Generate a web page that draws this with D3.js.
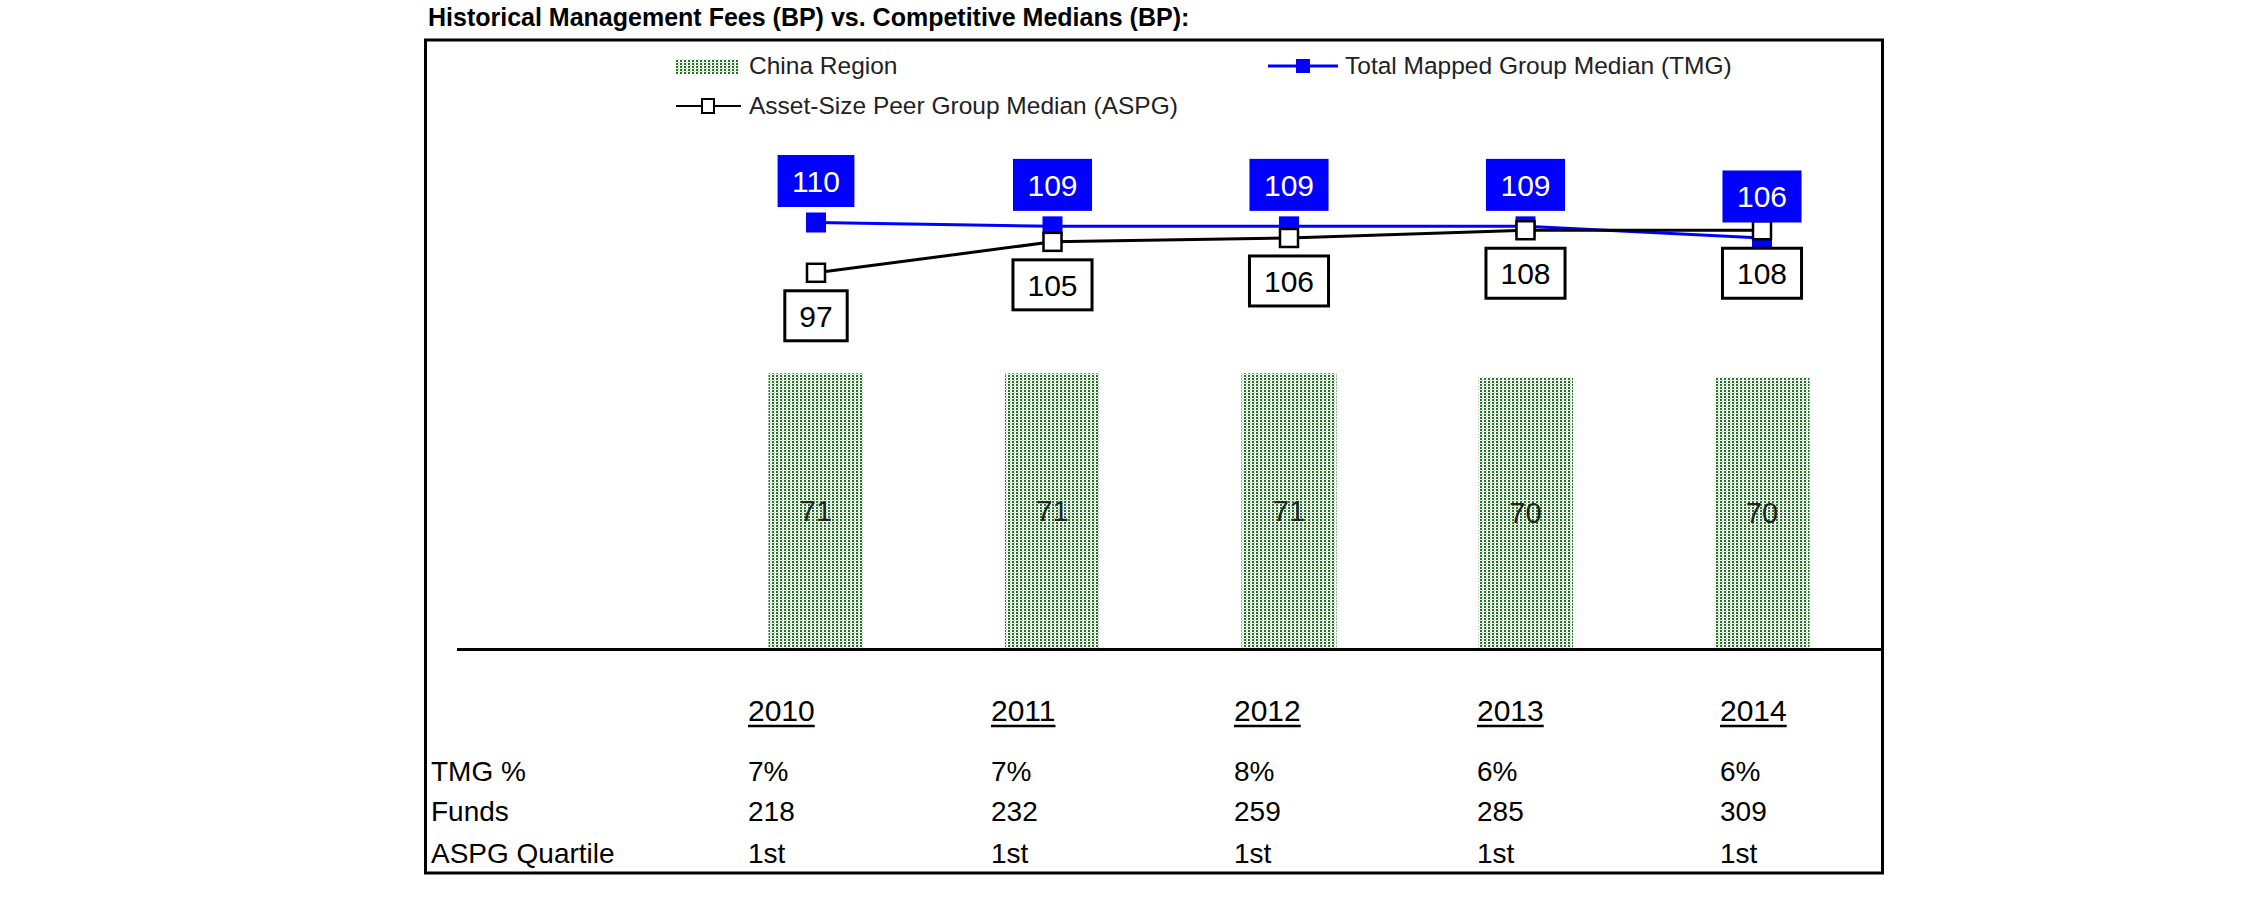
<!DOCTYPE html>
<html><head><meta charset="utf-8">
<script src="https://cdn.jsdelivr.net/npm/d3@7"></script>
<style>body{margin:0;background:#fff} svg{display:block} text{font-family:"Liberation Sans",Arial,sans-serif}</style>
</head><body><svg id="c" width="2251" height="898"></svg>
<script>
// ---- data ----
const years = ["2010","2011","2012","2013","2014"];
const chinaRegion = [71,71,71,70,70];
const tmgMedian = [110,109,109,109,106];
const aspgMedian = [97,105,106,108,108];
const tmgPct = ["7%","7%","8%","6%","6%"];
const funds = ["218","232","259","285","309"];
const aspgQuartile = ["1st","1st","1st","1st","1st"];
const rowLabels = ["TMG %","Funds","ASPG Quartile"];
const seriesNames = ["China Region","Total Mapped Group Median (TMG)","Asset-Size Peer Group Median (ASPG)"];
const titleText = "Historical Management Fees (BP) vs. Competitive Medians (BP):";

// ---- drawing ----
const W = 2251, H = 898;
const svg = d3.select("#c");
svg.append("rect").attr("width", W).attr("height", H).attr("fill", "#fff");

const defs = svg.append("defs");
const pat = defs.append("pattern").attr("id", "dots").attr("patternUnits", "userSpaceOnUse")
  .attr("width", 4).attr("height", 3);
pat.append("rect").attr("width", 4).attr("height", 3).attr("fill", "#fff");
pat.append("rect").attr("x", 0).attr("y", 0).attr("width", 2).attr("height", 2).attr("fill", "#1a781a");
pat.append("rect").attr("x", 2).attr("y", 2).attr("width", 1).attr("height", 1).attr("fill", "#a6d2a6");

// title
svg.append("text").attr("x", 428).attr("y", 26).attr("font-size", 25).attr("font-weight", "bold")
  .attr("fill", "#000").text(titleText);

// frame
svg.append("rect").attr("x", 425.5).attr("y", 40).attr("width", 1457).attr("height", 833)
  .attr("fill", "none").attr("stroke", "#000").attr("stroke-width", 3);

const x = d3.scalePoint().domain(years).range([816, 1762]);
const y = d3.scaleLinear().domain([0, 110]).range([648, 222.5]);
const barW = 95;

// bars
svg.append("g").selectAll("rect").data(years).join("rect")
  .attr("x", d => x(d) - barW / 2)
  .attr("y", (d, i) => y(chinaRegion[i]))
  .attr("width", barW)
  .attr("height", (d, i) => y(0) - y(chinaRegion[i]))
  .attr("fill", "url(#dots)");
svg.append("g").selectAll("text").data(years).join("text")
  .attr("x", d => x(d))
  .attr("y", (d, i) => (y(chinaRegion[i]) + y(0)) / 2 + 10)
  .attr("text-anchor", "middle").attr("font-size", 29).attr("fill", "#222")
  .text((d, i) => chinaRegion[i]);

// baseline
svg.append("line").attr("x1", 457).attr("x2", 1883).attr("y1", 649.5).attr("y2", 649.5)
  .attr("stroke", "#000").attr("stroke-width", 3);

// TMG line
const line = arr => d3.line().x((d, i) => x(years[i])).y(d => y(d))(arr);
svg.append("path").attr("d", line(tmgMedian)).attr("fill", "none")
  .attr("stroke", "#0000ff").attr("stroke-width", 3);
svg.append("g").selectAll("rect").data(tmgMedian).join("rect")
  .attr("x", (d, i) => x(years[i]) - 10).attr("y", d => y(d) - 10)
  .attr("width", 20).attr("height", 20).attr("fill", "#0000ff");

// ASPG line
svg.append("path").attr("d", line(aspgMedian)).attr("fill", "none")
  .attr("stroke", "#000").attr("stroke-width", 3);
svg.append("g").selectAll("rect").data(aspgMedian).join("rect")
  .attr("x", (d, i) => x(years[i]) - 9).attr("y", d => y(d) - 9)
  .attr("width", 18).attr("height", 18).attr("fill", "#fff")
  .attr("stroke", "#000").attr("stroke-width", 2.5);

// value labels
function boxLabel(cx, cy, txt, fill, stroke, color, h) {
  const g = svg.append("g").attr("transform", `translate(${cx},${cy})`);
  const r = g.append("rect");
  const t = g.append("text").attr("text-anchor", "middle").attr("y", 11)
    .attr("font-size", 30).attr("fill", color).text(txt);
  const w = t.node().getComputedTextLength() + 29;
  r.attr("x", -w / 2).attr("y", -h / 2).attr("width", w).attr("height", h).attr("fill", fill);
  if (stroke) r.attr("stroke", stroke).attr("stroke-width", 3);
}
tmgMedian.forEach((v, i) => boxLabel(x(years[i]), y(v) - 41.5, v, "#0000ff", null, "#fff", 52));
aspgMedian.forEach((v, i) => boxLabel(x(years[i]), y(v) + 43, v, "#fff", "#000", "#000", 50));

// legend
const lg = svg.append("g").attr("font-size", 24.5).attr("fill", "#222");
lg.append("rect").attr("x", 676).attr("y", 59).attr("width", 62).attr("height", 15).attr("fill", "url(#dots)");
lg.append("text").attr("x", 749).attr("y", 74).text(seriesNames[0]);
lg.append("line").attr("x1", 1268).attr("x2", 1338).attr("y1", 66).attr("y2", 66)
  .attr("stroke", "#0000ff").attr("stroke-width", 3);
lg.append("rect").attr("x", 1296).attr("y", 59).attr("width", 14).attr("height", 14).attr("fill", "#0000ff");
lg.append("text").attr("x", 1345).attr("y", 74).text(seriesNames[1]);
lg.append("line").attr("x1", 676).attr("x2", 741).attr("y1", 106).attr("y2", 106)
  .attr("stroke", "#000").attr("stroke-width", 2);
lg.append("rect").attr("x", 702).attr("y", 99).attr("width", 12).attr("height", 14)
  .attr("fill", "#fff").attr("stroke", "#000").attr("stroke-width", 2);
lg.append("text").attr("x", 749).attr("y", 114).text(seriesNames[2]);

// table
const cx = d3.scalePoint().domain(years).range([748, 1720]);
const tb = svg.append("g").attr("font-size", 28).attr("fill", "#000");
years.forEach((yr, i) => {
  const t = tb.append("text").attr("x", cx(yr)).attr("y", 721).attr("font-size", 30).text(yr);
  const w = t.node().getComputedTextLength();
  tb.append("line").attr("x1", cx(yr)).attr("x2", cx(yr) + w).attr("y1", 726).attr("y2", 726)
    .attr("stroke", "#000").attr("stroke-width", 2.5);
});
const rows = [tmgPct, funds, aspgQuartile];
const rowY = [781, 821, 863];
rows.forEach((row, r) => {
  tb.append("text").attr("x", 431).attr("y", rowY[r]).text(rowLabels[r]);
  row.forEach((v, i) => tb.append("text").attr("x", cx(years[i])).attr("y", rowY[r]).text(v));
});
</script></body></html>
